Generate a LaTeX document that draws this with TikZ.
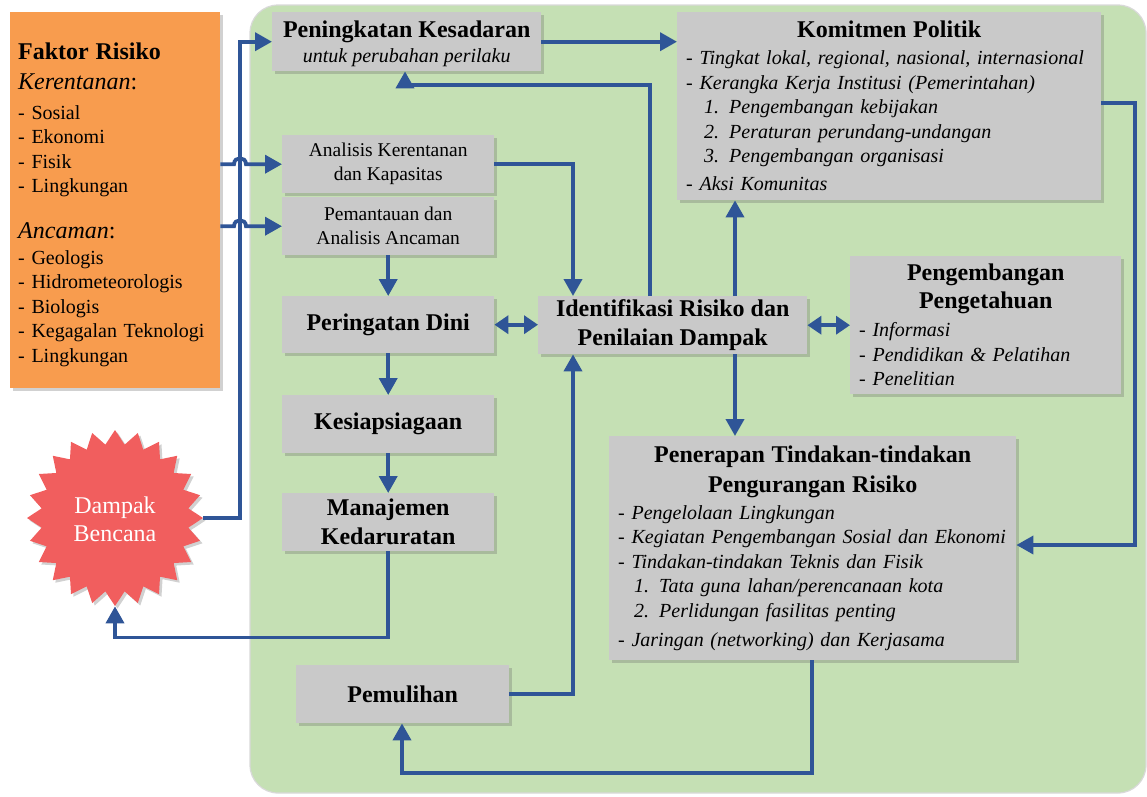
\documentclass[tikz,border=0pt]{standalone}
\usepackage{fontspec}
\setmainfont{Liberation Serif}
\usetikzlibrary{arrows.meta,shapes.geometric,shadows,calc}

\definecolor{bggreen}{RGB}{197,224,180}
\definecolor{boxgray}{RGB}{201,201,201}
\definecolor{riskorange}{RGB}{248,156,78}
\definecolor{flowblue}{RGB}{47,85,151}
\definecolor{burstred}{RGB}{241,94,94}

\newcommand\hdfont{\fontsize{24}{29}\selectfont\bfseries}
\newcommand\bdfont{\fontsize{20}{24.5}\selectfont}

\tikzset{
  boxshadow/.style={drop shadow={shadow xshift=2.5pt,shadow yshift=-2.5pt,opacity=0.3,fill=black!60}},
  gbox/.style={fill=boxgray, boxshadow, anchor=north west, inner sep=0pt, align=center},
  listbox/.style={fill=boxgray, boxshadow, anchor=north west, inner ysep=0pt, inner xsep=9pt, align=left, font=\bdfont\itshape},
  conn/.style={draw=flowblue, line width=3.8pt, -{Triangle[length=17pt,width=18pt]}},
  dconn/.style={draw=flowblue, line width=3.8pt, {Triangle[length=14pt,width=18pt]}-{Triangle[length=14pt,width=18pt]}},
}

\begin{document}
\begin{tikzpicture}[x=1pt,y=-1pt]
\useasboundingbox (0,0) rectangle (1147,796);

% green working area
\fill[bggreen, draw=black!15, line width=1.2pt, rounded corners=28pt] (250,5) rectangle (1146,793);

% risk factors
\node[fill=riskorange, boxshadow, anchor=north west, minimum width=210, minimum height=376,
      text width=194, inner xsep=8pt, inner ysep=0pt, align=left, font=\bdfont] (faktor) at (10,12)
  {\rule{0pt}{25pt}{\hdfont Faktor Risiko}\\[5.5pt]
   {\fontsize{24}{25}\selectfont\itshape Kerentanan\upshape:}\\[5.5pt]
   - Sosial\\- Ekonomi\\- Fisik\\- Lingkungan\\[21pt]
   {\fontsize{24}{25}\selectfont\itshape Ancaman\upshape:}\\[1.5pt]
   - Geologis\\- Hidrometeorologis\\- Biologis\\- Kegagalan Teknologi\\- Lingkungan};

% disaster impact
\node[star, star points=24, star point ratio=1.19, minimum size=176pt, inner sep=0pt,
      fill=burstred, boxshadow] (db) at (115,518) {};
\node[text=white, align=center, font=\fontsize{24}{28}\selectfont] (dbt) at (115,519) {Dampak\\Bencana};

% process boxes
\node[gbox, minimum width=269, minimum height=59] (pk) at (272,12)
  {\rule{0pt}{21pt}{\hdfont Peningkatan Kesadaran}\\[5.5pt]{\bdfont\itshape untuk perubahan perilaku}};
\node[gbox, minimum width=212, minimum height=58, font=\fontsize{19.5}{24}\selectfont] (ak) at (282,135)
  {Analisis Kerentanan\\dan Kapasitas};
\node[gbox, minimum width=212, minimum height=58, font=\fontsize{19.5}{24}\selectfont] (pa) at (282,197)
  {Pemantauan dan\\Analisis Ancaman};
\node[gbox, minimum width=212, minimum height=57, font=\hdfont] (pd) at (282,296) {Peringatan Dini};
\node[gbox, minimum width=212, minimum height=58, font=\hdfont] (ks) at (282,395) {Kesiapsiagaan};
\node[gbox, minimum width=212, minimum height=58, font=\hdfont] (mk) at (282,493) {Manajemen\\Kedaruratan};
\node[gbox, minimum width=213, minimum height=58, font=\hdfont] (pm) at (296,665) {Pemulihan};
\node[gbox, minimum width=269, minimum height=58, font=\hdfont] (ir) at (538,296)
  {Identifikasi Risiko dan\\Penilaian Dampak};

\node[listbox, minimum width=424, minimum height=188, text width=406] (kp) at (677,12)
  {\makebox[406pt]{\hdfont\upshape Komitmen Politik}\\[2.5pt]
   - Tingkat lokal, regional, nasional, internasional\\
   - Kerangka Kerja Institusi (Pemerintahan)\\
   \hspace*{18pt}1. Pengembangan kebijakan\\
   \hspace*{18pt}2. Peraturan perundang-undangan\\
   \hspace*{18pt}3. Pengembangan organisasi\\[3.5pt]
   - Aksi Komunitas};

\node[listbox, minimum width=271, minimum height=138, text width=253] (pp) at (850,256)
  {\makebox[253pt]{\hdfont\upshape Pengembangan}\\[3.5pt]
   \makebox[253pt]{\hdfont\upshape Pengetahuan}\\[3.5pt]
   - Informasi\\
   - Pendidikan \& Pelatihan\\
   - Penelitian};

\node[listbox, minimum width=407, minimum height=224, text width=389] (pt) at (609,436)
  {\makebox[389pt]{\hdfont\upshape Penerapan Tindakan-tindakan}\\[5.5pt]
   \makebox[389pt]{\hdfont\upshape Pengurangan Risiko}\\[2.5pt]
   - Pengelolaan Lingkungan\\
   - Kegiatan Pengembangan Sosial dan Ekonomi\\
   - Tindakan-tindakan Teknis dan Fisik\\
   \hspace*{16pt}1. Tata guna lahan/perencanaan kota\\
   \hspace*{16pt}2. Perlidungan fasilitas penting\\[4.5pt]
   - Jaringan (networking) dan Kerjasama};

% guide columns for the connectors
\coordinate (tk) at (240,0);
\coordinate (cx) at (573,0);
\coordinate (cy) at (650,0);
\coordinate (cz) at (405,0);
\coordinate (cw) at (735,0);
\coordinate (cr) at (1135,0);
\coordinate (cb) at (812,0);
\coordinate (cp) at (402,0);

% impact feeds awareness
\draw[conn] (db.east) -| (tk |- pk.west) -- (pk.west);

% risk factors feed the analyses, hopping over the trunk line
\draw[conn] (faktor.east |- ak.west) -- ($(tk |- ak.west)+(-6,0)$)
  .. controls ($(tk |- ak.west)+(-6,-8)$) and ($(tk |- ak.west)+(6,-8)$) .. ($(tk |- ak.west)+(6,0)$)
  -- (ak.west);
\draw[conn] (faktor.east |- pa.west) -- ($(tk |- pa.west)+(-6,0)$)
  .. controls ($(tk |- pa.west)+(-6,-8)$) and ($(tk |- pa.west)+(6,-8)$) .. ($(tk |- pa.west)+(6,0)$)
  -- (pa.west);

% left column chain
\draw[conn] (pa.south) -- (pd.north);
\draw[conn] (pd.south) -- (ks.north);
\draw[conn] (ks.south) -- (mk.north);
\draw[conn] (mk.south) -- ++(0,86) -| (db.south);

% into risk identification
\draw[conn] (ak.east) -| (cx |- ir.north);
\draw[conn] (pm.east) -| (cx |- ir.south);
\draw[dconn] (pd.east) -- (pd.east -| ir.west);
\draw[dconn] (ir.east) -- (ir.east -| pp.west);

% out of risk identification
\draw[conn] (cy |- ir.north) -- (cy |- 0,85) -| (cz |- pk.south);
\draw[conn] (pk.east) -- (pk.east -| kp.west);
\draw[conn] (cw |- ir.north) -- (cw |- kp.south);
\draw[conn] (cw |- ir.south) -- (cw |- pt.north);

% political commitment to reduction measures
\draw[conn] (kp.east |- 0,103) -- (cr |- 0,103) |- (pt.east |- 0,545);

% reduction measures back to recovery
\draw[conn] (cb |- pt.south) -- (cb |- 0,773) -| (cp |- pm.south);
\end{tikzpicture}
\end{document}
